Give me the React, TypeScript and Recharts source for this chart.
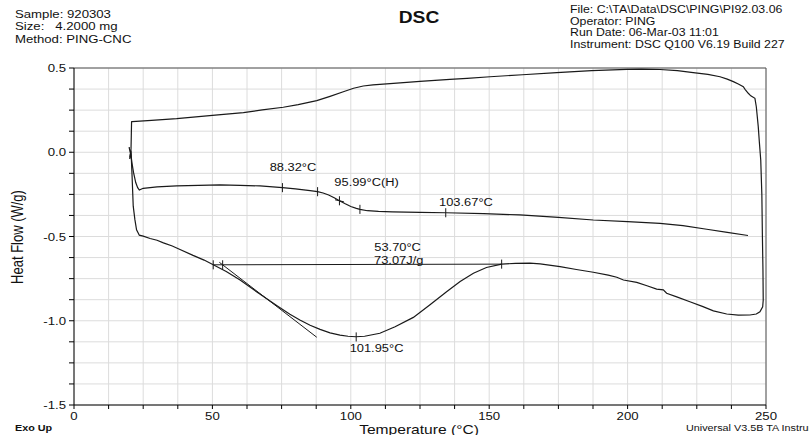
import React from 'react';
import {
  LineChart,
  Line,
  XAxis,
  YAxis,
  CartesianGrid,
  ReferenceLine,
  ReferenceDot,
} from 'recharts';

const FONT = '"Liberation Sans", Arial, Helvetica, sans-serif';
const SX = 1.2;
const INK = '#1a1a1a';

// ---- data: first heating (lower curve with endotherm) ----
const heat1T = [20.3, 19.9, 20.5, 20.1, 20.6, 21.0, 21.4, 22.0, 22.6, 23.6, 25.0, 27.5, 30.0, 32.3, 35.5, 38.3, 43.0, 47.0, 50.3, 55.0, 60.0, 67.0, 73.2, 78.0, 81.6, 85.3, 88.9, 92.5, 96.1, 99.0, 101.8, 105.0, 110.5, 116.0, 122.6, 128.5, 134.6, 139.5, 144.3, 149.0, 154.5, 159.5, 164.7, 168.4, 175.6, 181.5, 187.6, 193.0, 196.1, 198.5, 203.3, 207.0, 210.5, 212.9, 214.1, 218.0, 222.5, 227.0, 231.0, 235.8, 240.0, 244.2, 246.5, 247.8, 248.8, 249.0, 248.9, 248.7, 248.5, 248.1];
const heat1V = [0.0, 0.03, -0.01, -0.04, 0.01, -0.15, -0.32, -0.4, -0.46, -0.492, -0.498, -0.512, -0.522, -0.538, -0.556, -0.577, -0.612, -0.64, -0.668, -0.708, -0.758, -0.84, -0.91, -0.962, -0.996, -1.027, -1.051, -1.072, -1.085, -1.092, -1.095, -1.092, -1.074, -1.036, -0.98, -0.906, -0.828, -0.767, -0.718, -0.684, -0.664, -0.659, -0.658, -0.662, -0.679, -0.696, -0.712, -0.729, -0.742, -0.758, -0.772, -0.792, -0.812, -0.817, -0.837, -0.86, -0.887, -0.915, -0.941, -0.96, -0.967, -0.966, -0.96, -0.947, -0.917, -0.877, -0.7, -0.5, -0.25, -0.046];

// ---- cooling (upper curve, traced from 250 back to 20) ----
const coolT = [248.1, 247.6, 247.2, 246.5, 246.0, 244.5, 243.6, 242.5, 241.8, 240.0, 238.2, 236.0, 233.4, 229.0, 223.7, 218.0, 211.7, 205.0, 199.7, 187.0, 174.4, 162.0, 150.3, 142.0, 135.8, 125.0, 115.4, 108.0, 104.5, 101.0, 97.3, 92.5, 87.7, 81.0, 75.6, 68.0, 61.2, 50.0, 37.1, 28.0, 21.0, 20.8, 20.7, 20.6];
const coolV = [-0.046, 0.06, 0.152, 0.27, 0.32, 0.335, 0.35, 0.372, 0.389, 0.405, 0.419, 0.434, 0.448, 0.462, 0.472, 0.484, 0.491, 0.493, 0.492, 0.484, 0.472, 0.46, 0.448, 0.439, 0.432, 0.421, 0.409, 0.4, 0.393, 0.38, 0.359, 0.332, 0.306, 0.283, 0.267, 0.251, 0.235, 0.219, 0.199, 0.189, 0.182, 0.181, 0.1, 0.02];

// ---- second heating (middle curve with glass transition) ----
const heat2T = [20.6, 20.2, 20.5, 20.9, 21.5, 22.3, 23.0, 23.6, 25.0, 30.0, 37.1, 45.0, 52.7, 60.0, 67.2, 75.3, 80.0, 85.3, 88.0, 90.0, 92.0, 94.0, 95.9, 98.0, 100.0, 102.0, 103.3, 106.0, 110.0, 115.0, 125.0, 134.3, 148.0, 161.1, 175.0, 187.6, 200.0, 211.7, 220.0, 228.6, 236.0, 243.5];
const heat2V = [0.02, -0.03, 0.0, -0.06, -0.12, -0.18, -0.21, -0.224, -0.214, -0.205, -0.2, -0.196, -0.194, -0.196, -0.2, -0.21, -0.217, -0.228, -0.234, -0.242, -0.254, -0.27, -0.288, -0.306, -0.322, -0.333, -0.339, -0.347, -0.351, -0.354, -0.357, -0.359, -0.364, -0.372, -0.386, -0.402, -0.412, -0.422, -0.436, -0.457, -0.476, -0.494];

// ---- analysis marks ----
const markT = [75.3, 88.0, 95.9, 103.3, 134.3, 50.3, 53.7, 154.5, 101.95];
const markV = [-0.21, -0.234, -0.288, -0.339, -0.359, -0.668, -0.668, -0.664, -1.096];
const crossT = 95.9;
const crossV = -0.288;
const baselineT = [50.3, 154.5];
const baselineV = [-0.668, -0.664];
const tangentT = [52.5, 87.7];
const tangentV = [-0.653, -1.098];

const labelText = ['88.32°C', '95.99°C(H)', '103.67°C', '53.70°C', '73.07J/g', '101.95°C'];
const labelT = [79.1, 105.7, 141.6, 116.9, 117.3, 109.3];
const labelV = [-0.088, -0.178, -0.298, -0.562, -0.637, -1.162];

// ---- axes ----
const xTicks = [0, 12.5, 25, 37.5, 50, 62.5, 75, 87.5, 100, 112.5, 125, 137.5, 150, 162.5, 175, 187.5, 200, 212.5, 225, 237.5, 250];
const xLabelTicks = [0, 50, 100, 150, 200, 250];
const yTicks = [-1.5, -1.375, -1.25, -1.125, -1.0, -0.875, -0.75, -0.625, -0.5, -0.375, -0.25, -0.125, 0, 0.125, 0.25, 0.375, 0.5];
const yLabelTicks = [-1.5, -1.0, -0.5, 0, 0.5];

const headerLeft = ['Sample: 920303', 'Size:   4.2000 mg', 'Method: PING-CNC'];
const headerRight = [
  'File: C:\\TA\\Data\\DSC\\PING\\PI92.03.06',
  'Operator: PING',
  'Run Date: 06-Mar-03 11:01',
  'Instrument: DSC Q100 V6.19 Build 227',
];

const toPts = (ts: number[], vs: number[]) => ts.map((t, i) => ({ t, v: vs[i] }));
const heat1 = toPts(heat1T, heat1V);
const cool = toPts(coolT, coolV);
const heat2 = toPts(heat2T, heat2V);

const SText = ({ x, y, children, size = 11, anchor = 'start', weight = 'normal', sx = SX }: any) => (
  <text
    transform={`translate(${x},${y}) scale(${sx},1)`}
    x={0}
    y={0}
    fontFamily={FONT}
    fontSize={size}
    fontWeight={weight}
    textAnchor={anchor}
    fill="#111"
    style={{ whiteSpace: 'pre' }}
  >
    {children}
  </text>
);

const YTick = (props: any) => {
  const { x, y, payload } = props;
  const v = payload.value;
  const show = yLabelTicks.some((k) => Math.abs(k - v) < 1e-6);
  if (!show) return <g />;
  return (
    <SText x={x} y={y + 4} anchor="end">
      {v.toFixed(1)}
    </SText>
  );
};

const XTick = (props: any) => {
  const { x, y, payload } = props;
  const v = payload.value;
  const show = xLabelTicks.some((k) => Math.abs(k - v) < 1e-6);
  if (!show) return <g />;
  return (
    <SText x={x} y={y + 9} anchor="middle">
      {String(v)}
    </SText>
  );
};

const TICK_H = 0.027;

export default function App() {
  return (
    <div style={{ position: 'absolute', left: 0, top: 0, width: 809, height: 435, background: '#fff' }}>
      <LineChart
        width={809}
        height={435}
        margin={{ top: 68, right: 43, bottom: 0, left: 0 }}
      >
        <CartesianGrid stroke="#dcdcdc" strokeWidth={1} />
        <XAxis
          type="number"
          dataKey="t"
          domain={[0, 250]}
          ticks={xTicks}
          interval={0}
          height={30}
          tickSize={4}
          tickMargin={2}
          allowDataOverflow
          axisLine={{ stroke: '#000' }}
          tickLine={{ stroke: '#000' }}
          tick={<XTick />}
        />
        <YAxis
          type="number"
          dataKey="v"
          domain={[-1.5, 0.5]}
          ticks={yTicks}
          interval={0}
          width={74}
          tickSize={5}
          tickMargin={3}
          allowDataOverflow
          axisLine={{ stroke: '#000' }}
          tickLine={{ stroke: '#000' }}
          tick={<YTick />}
        />
        <ReferenceLine y={0.5} stroke="#555" strokeWidth={1} />
        <ReferenceLine x={250} stroke="#555" strokeWidth={1} />

        <Line data={heat1} dataKey="v" type="linear" stroke={INK} strokeWidth={1.2} dot={false} isAnimationActive={false} />
        <Line data={cool} dataKey="v" type="linear" stroke={INK} strokeWidth={1.2} dot={false} isAnimationActive={false} />
        <Line data={heat2} dataKey="v" type="linear" stroke={INK} strokeWidth={1.2} dot={false} isAnimationActive={false} />

        <ReferenceLine
          segment={[
            { x: baselineT[0], y: baselineV[0] },
            { x: baselineT[1], y: baselineV[1] },
          ]}
          stroke={INK}
          strokeWidth={1}
        />
        <ReferenceLine
          segment={[
            { x: tangentT[0], y: tangentV[0] },
            { x: tangentT[1], y: tangentV[1] },
          ]}
          stroke={INK}
          strokeWidth={1}
        />
        {markT.map((t, i) => (
          <ReferenceLine
            key={'m' + i}
            segment={[
              { x: t, y: markV[i] - TICK_H },
              { x: t, y: markV[i] + TICK_H },
            ]}
            stroke={INK}
            strokeWidth={1}
          />
        ))}
        <ReferenceLine
          segment={[
            { x: crossT - 1.6, y: crossV + 0.006 },
            { x: crossT + 1.6, y: crossV - 0.006 },
          ]}
          stroke={INK}
          strokeWidth={1}
        />
        {labelText.map((txt, i) => (
          <ReferenceDot
            key={'l' + i}
            x={labelT[i]}
            y={labelV[i]}
            r={1}
            shape={(p: any) => (
              <SText x={p.cx} y={p.cy + 4} anchor="middle" sx={1.17}>
                {txt}
              </SText>
            )}
          />
        ))}
      </LineChart>

      <svg
        width={809}
        height={435}
        style={{ position: 'absolute', left: 0, top: 0, pointerEvents: 'none' }}
      >
        {headerLeft.map((s, i) => (
          <SText key={'hl' + i} x={15} y={18 + i * 12.3}>
            {s}
          </SText>
        ))}
        {headerRight.map((s, i) => (
          <SText key={'hr' + i} x={570} y={13 + i * 11.7} sx={1.12}>
            {s}
          </SText>
        ))}
        <SText x={419} y={23} size={16} weight="bold" anchor="middle" sx={1.2}>
          DSC
        </SText>
        <text
          transform={`translate(23,237) rotate(-90) scale(1,1.2)`}
          fontFamily={FONT}
          fontSize={13}
          textAnchor="middle"
          fill="#111"
        >
          Heat Flow (W/g)
        </text>
        <SText x={419} y={434} size={13} anchor="middle">
          Temperature (°C)
        </SText>
        <SText x={15} y={431} size={9} weight="bold">
          Exo Up
        </SText>
        <SText x={686} y={431} size={9}>
          Universal V3.5B TA Instruments
        </SText>
      </svg>
    </div>
  );
}
